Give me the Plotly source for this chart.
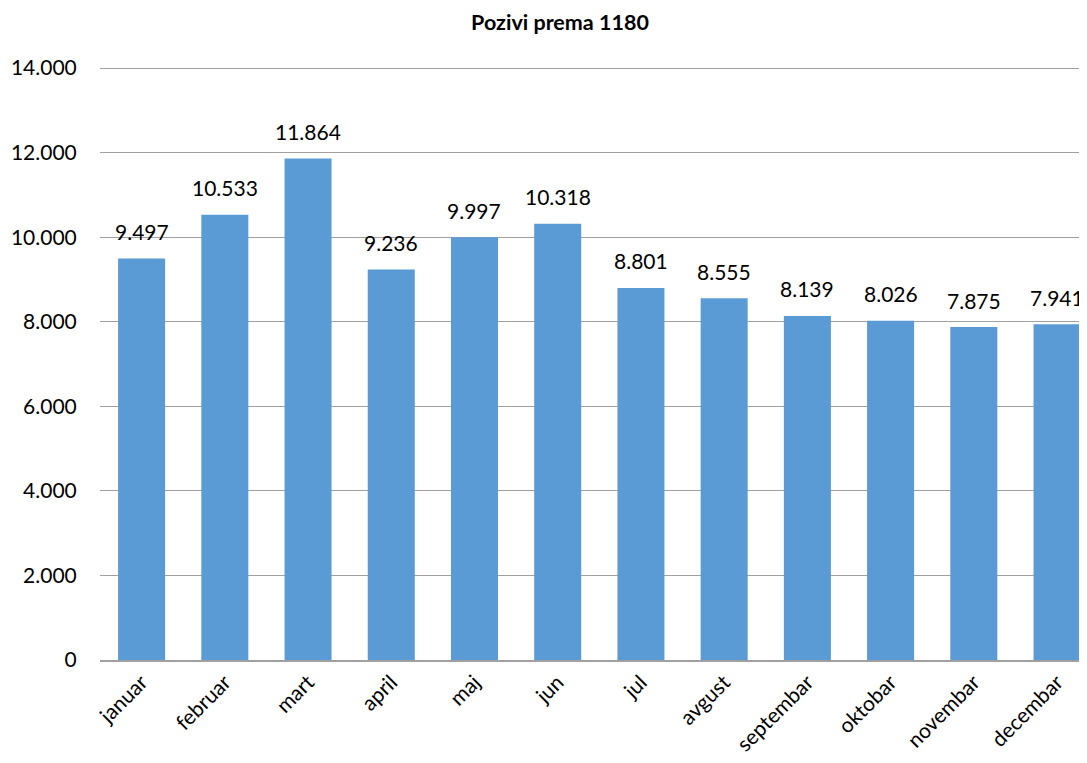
import plotly.graph_objects as go

months = ["januar", "februar", "mart", "april", "maj", "jun", "jul", "avgust",
          "septembar", "oktobar", "novembar", "decembar"]
calls = [9497, 10533, 11864, 9236, 9997, 10318, 8801, 8555, 8139, 8026, 7875, 7941]
tick_vals = [0, 2000, 4000, 6000, 8000, 10000, 12000, 14000]
tick_text = ["0", "2.000", "4.000", "6.000", "8.000", "10.000", "12.000", "14.000"]

def fmt(v):
    return f"{v:,}".replace(",", ".")

font_family = "Lato, 'Open Sans', sans-serif"
FS = 21

fig = go.Figure(go.Bar(
    x=months, y=calls,
    marker=dict(color="#5B9BD5", line=dict(width=0)),
    cliponaxis=False,
))

for m, v in zip(months, calls):
    fig.add_annotation(x=m, y=v, text=fmt(v), showarrow=False,
                       xanchor="center", yanchor="middle", yshift=27,
                       font=dict(size=FS, color="#000000", family=font_family))

fig.update_layout(
    width=1087, height=763,
    margin=dict(l=92, r=8, t=58, b=111, autoexpand=False),
    plot_bgcolor="white", paper_bgcolor="white",
    bargap=0.435,
    showlegend=False,
    title=dict(text="<b>Pozivi prema 1180</b>", x=552 / 1087, xanchor="center",
               y=1 - 14 / 763, yanchor="middle",
               font=dict(size=21.5, color="#000000", family=font_family)),
    font=dict(family=font_family, color="#000000"),
)
fig.update_xaxes(range=[-0.5, 11.36], tickangle=-45, showgrid=False, automargin=False,
                 showline=True, linecolor="#A0A0A0", linewidth=1.5,
                 ticks="", tickfont=dict(size=FS, color="#000000"))
fig.update_yaxes(range=[0, 14050], tickvals=tick_vals, ticktext=tick_text,
                 showgrid=True, gridcolor="#A0A0A0", gridwidth=1.2, automargin=False,
                 zeroline=False, showline=False,
                 ticks="outside", ticklen=0, tickfont=dict(size=FS, color="#000000"),
                 ticklabelstandoff=18)

fig.write_html("out.html")
